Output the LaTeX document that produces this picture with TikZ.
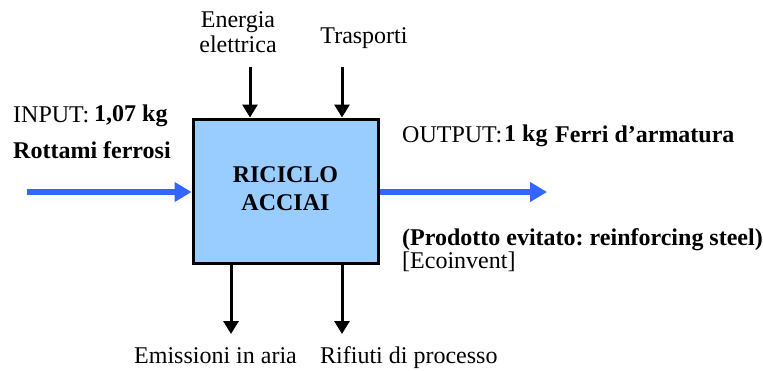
\documentclass[tikz,border=0pt]{standalone}
\usepackage{fontspec}
\setmainfont{Liberation Serif}
\usetikzlibrary{arrows.meta}
\definecolor{boxfill}{HTML}{99CCFF}
\definecolor{flowblue}{HTML}{3366FF}
\frenchspacing
\begin{document}
\begin{tikzpicture}[x=1pt,y=-1pt,
  every node/.style={inner sep=0pt, font=\fontsize{24}{25}\selectfont},
  bfont/.style={font=\fontsize{24}{25}\selectfont\bfseries},
  lbl/.style={anchor=base west},
  clbl/.style={anchor=base, align=center},
  procbox/.style={draw=black, line width=3pt, fill=boxfill, minimum width=185pt, minimum height=144pt},
  blkflow/.style={line width=3pt, -{Triangle[length=13pt,width=15pt]}},
  blueflow/.style={draw=flowblue, line width=6pt, -{Triangle[length=17pt,width=19pt]}}]
\useasboundingbox (0,0) rectangle (763,370);
% process box
\node[procbox] (box) at (285.5,191) {};
\node[clbl, bfont] (t1) at (285.5,182) {RICICLO};
\node[clbl, bfont] (t2) at (285.5,210) {ACCIAI};
% top inputs
\node[clbl, font=\fontsize{24}{25}\selectfont] (en) at (238,52) {Energia\\elettrica};
\node[clbl] (tr) at (364,43) {Trasporti};
\coordinate (a1) at (250,67);
\coordinate (a2) at (342,67);
\draw[blkflow] (a1) -- (a1 |- box.north);
\draw[blkflow] (a2) -- (a2 |- box.north);
% bottom outputs
\coordinate (b1) at (231,334);
\coordinate (b2) at (342,334);
\draw[blkflow] (b1 |- box.south) -- (b1);
\draw[blkflow] (b2 |- box.south) -- (b2);
\node[lbl] (em) at (134,363) {Emissioni in aria};
\node[lbl] (ri) at (320,363) {Rifiuti di processo};
% input
\node[lbl] (in1) at (13,122) {INPUT:};
\node[lbl, bfont] (in2) at (94,121) {1,07 kg};
\node[lbl, bfont] (in3) at (13,158) {Rottami ferrosi};
\coordinate (inS) at (27,192);
\draw[blueflow] (inS) -- (inS -| box.west);
% output
\node[lbl] (out1) at (402,142) {OUTPUT:};
\node[lbl, bfont] (out2) at (504,141) {1 kg};
\node[lbl, bfont] (out3) at (555,142) {Ferri d’armatura};
\coordinate (outE) at (547,192);
\draw[blueflow] (outE -| box.east) -- (outE);
\node[anchor=base west, align=left, font=\fontsize{24}{18}\selectfont] (pe) at (402,268)
  {\textbf{(Prodotto evitato: reinforcing steel)}\\\relax[Ecoinvent]};
\end{tikzpicture}
\end{document}
